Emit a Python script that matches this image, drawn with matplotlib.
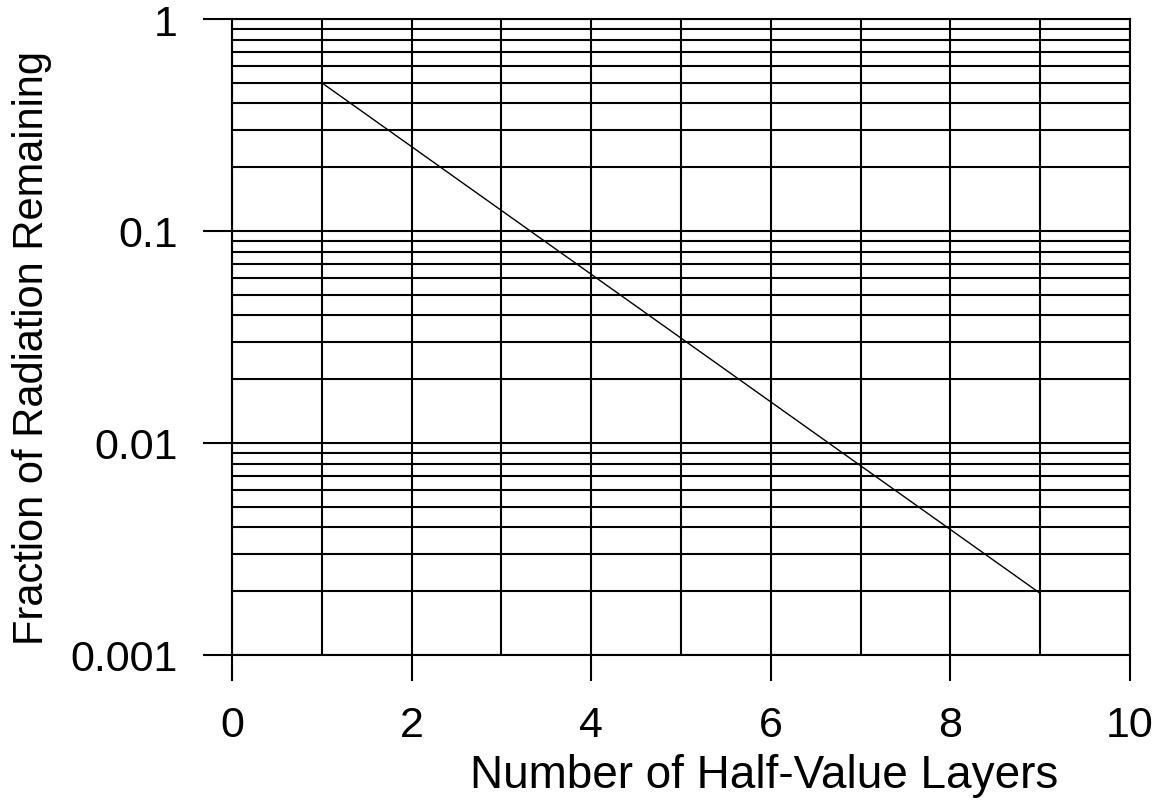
import matplotlib
matplotlib.use("Agg")
import matplotlib.pyplot as plt
from matplotlib.ticker import FixedLocator, NullFormatter

plt.rcParams['font.family'] = ['Liberation Sans', 'DejaVu Sans']

hvl = [1, 2, 3, 4, 5, 6, 7, 8, 9]
fraction = [0.5, 0.25, 0.125, 0.0625, 0.03125, 0.015625, 0.0078125, 0.00390625, 0.001953125]
x_ticks = [0, 2, 4, 6, 8, 10]
y_ticks = [0.001, 0.01, 0.1, 1]
y_tick_labels = ["0.001", "0.01", "0.1", "1"]
x_label = "Number of Half-Value Layers"
y_label = "Fraction of Radiation Remaining"

W, H = 1166, 804
fig = plt.figure(figsize=(W / 100, H / 100), dpi=100)
L, R, T, B = 232, 1130, 20, 656
ax = fig.add_axes([L / W, 1 - B / H, (R - L) / W, (B - T) / H])

ax.set_yscale('log')
ax.set_xlim(0, 10)
ax.set_ylim(0.001, 1)

ax.plot(hvl, fraction, color='black', linewidth=1.0, zorder=3)

ax.set_xticks(x_ticks)
ax.set_xticks(range(1, 10, 2), minor=True)
ax.set_yticks(y_ticks)
ax.set_yticklabels(y_tick_labels)
minor_y = [m * 10.0 ** e for e in (-3, -2, -1) for m in range(2, 10)]
ax.yaxis.set_minor_locator(FixedLocator(minor_y))
ax.yaxis.set_minor_formatter(NullFormatter())

ax.grid(True, which='both', axis='both', color='black', linewidth=1.5)

ax.tick_params(axis='x', which='major', direction='out', length=19, width=1.5, pad=17, labelsize=31)
ax.tick_params(axis='y', which='major', direction='out', length=21, width=1.5, pad=18, labelsize=31)
ax.tick_params(which='minor', length=0)

for s in ax.spines.values():
    s.set_linewidth(1.5)
    s.set_color('black')

fig.text(764 / W, 1 - 788 / H, x_label, ha='center', va='baseline', fontsize=33)
fig.text(32 / W, 1 - 348.5 / H, y_label, ha='center', va='center', rotation=90, fontsize=30)

fig.savefig('out.png', dpi=100)
